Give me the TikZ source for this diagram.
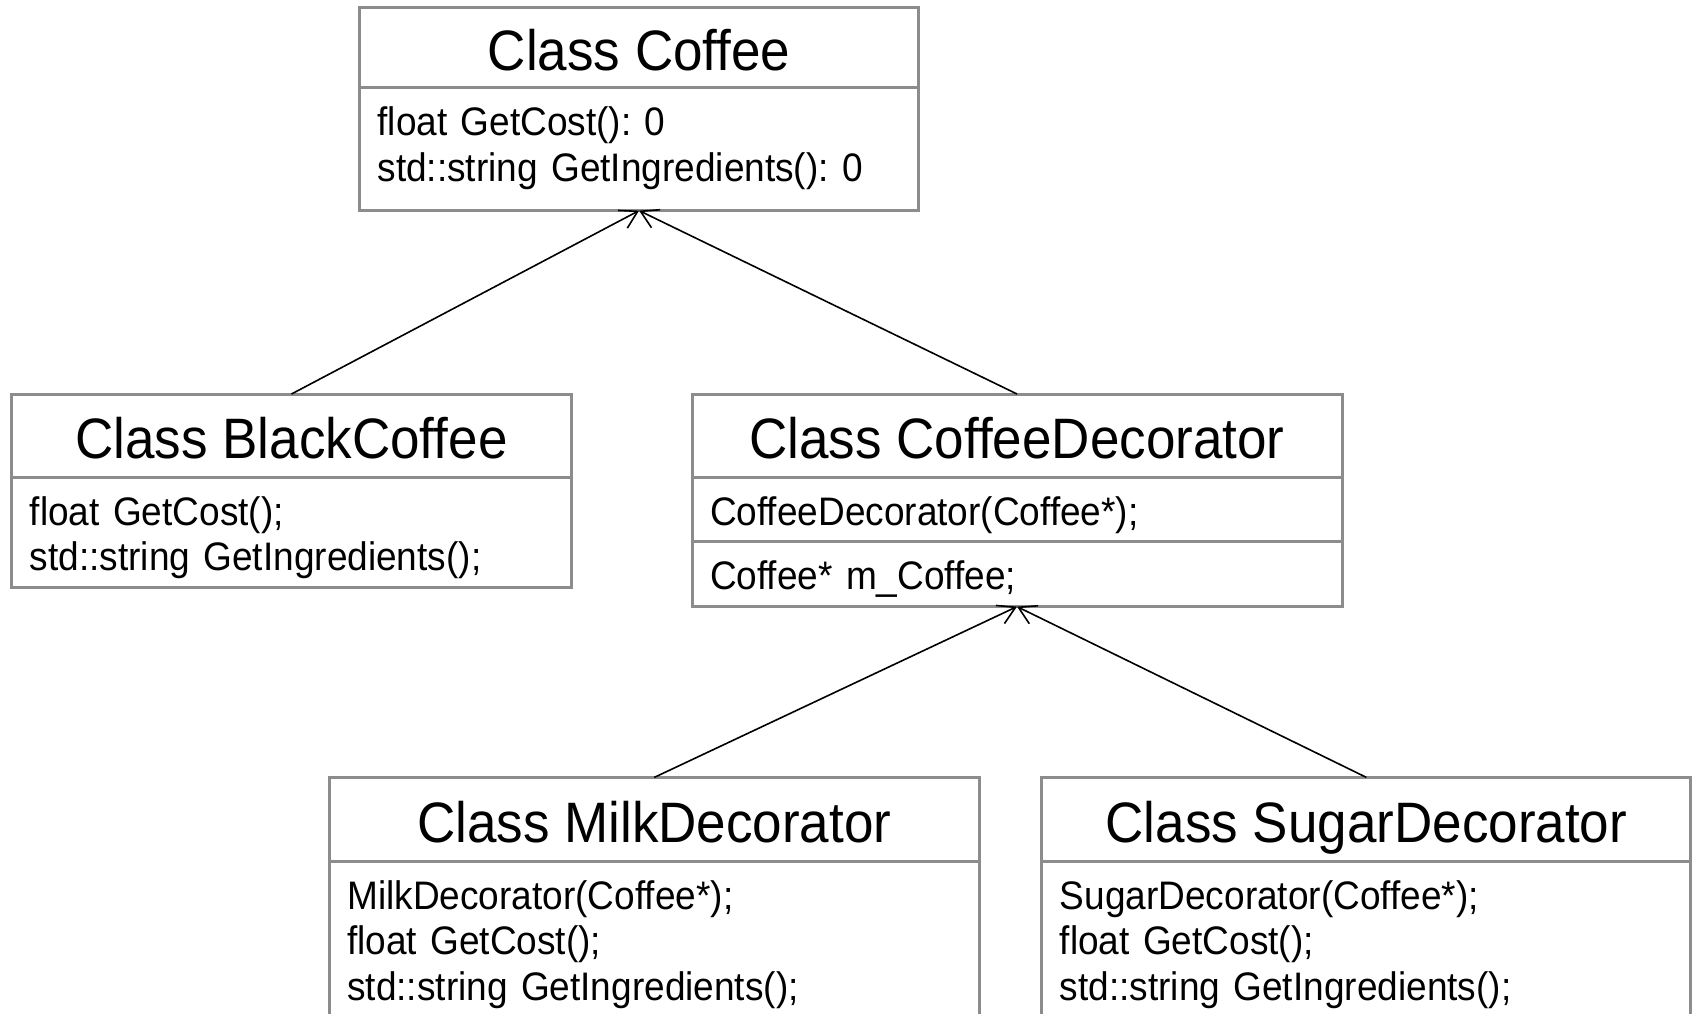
\documentclass[tikz,border=0pt]{standalone}
\usepackage{fontspec}
\setmainfont{Liberation Sans}[FakeStretch=0.93]
\frenchspacing
\usetikzlibrary{arrows.meta, positioning}
\definecolor{boxgray}{RGB}{140,140,140}
\tikzset{
    classhead/.style={
        rectangle, draw=boxgray, line width=1.5pt, outer sep=0pt,
        text centered, text height=24pt, text depth=1pt,
        font=\fontsize{28.5}{32}\selectfont
    },
    classbody/.style={
        rectangle, draw=boxgray, line width=1.5pt, outer sep=0pt,
        inner xsep=9pt, inner ysep=0pt, text height=24pt, align=left,
        font=\fontsize{19.9}{22.7}\selectfont
    },
    generalize/.style={draw=black, line width=0.8pt, -{Straight Barb[length=8.5pt, width=10pt]}}
}

\begin{document}
\begin{tikzpicture}[x=0.5pt, y=-0.5pt]
\path[use as bounding box, clip] (0,0) rectangle (1693,1013);

% Top: base class
\node[classhead, anchor=north west, minimum width=279.6pt, minimum height=40pt] (coffee) at (359.5,7.6) {Class Coffee};
\node[classbody, text width=261.6pt, text depth=37.5pt, below=0pt of coffee] (coffeebody) {float GetCost(): 0\\std::string GetIngredients(): 0};

% Middle: concrete coffee and decorator
\node[classhead, anchor=north west, minimum width=279.6pt, minimum height=41.5pt] (black) at (11.9,394) {Class BlackCoffee};
\node[classbody, text width=261.6pt, text depth=31pt, below=0pt of black] (blackbody) {float GetCost();\\std::string GetIngredients();};

\node[classhead, anchor=north west, minimum width=325pt, minimum height=41.5pt] (decorator) at (692,394) {Class CoffeeDecorator};
\node[classbody, text width=307pt, text depth=8.4pt, below=0pt of decorator] (decoratorops) {CoffeeDecorator(Coffee*);};
\node[classbody, text width=307pt, text depth=8.4pt, below=0pt of decoratorops] (decoratorattr) {Coffee* m\_Coffee;};

% Bottom: decorators
\node[classhead, anchor=north west, minimum width=325pt, minimum height=42pt] (milk) at (329.3,777.4) {Class MilkDecorator};
\node[classbody, text width=307pt, text depth=55pt, below=0pt of milk] (milkbody) {MilkDecorator(Coffee*);\\float GetCost();\\std::string GetIngredients();};

\node[classhead, anchor=north west, minimum width=324.5pt, minimum height=42pt] (sugar) at (1041.9,777.4) {Class SugarDecorator};
\node[classbody, text width=306.5pt, text depth=55pt, below=0pt of sugar] (sugarbody) {SugarDecorator(Coffee*);\\float GetCost();\\std::string GetIngredients();};

% Inheritance
\draw[generalize] (black.north) -- (coffeebody.south);
\draw[generalize] (decorator.north) -- (coffeebody.south);
\draw[generalize] (milk.north) -- (decoratorattr.south);
\draw[generalize] (sugar.north) -- (decoratorattr.south);

\end{tikzpicture}
\end{document}
